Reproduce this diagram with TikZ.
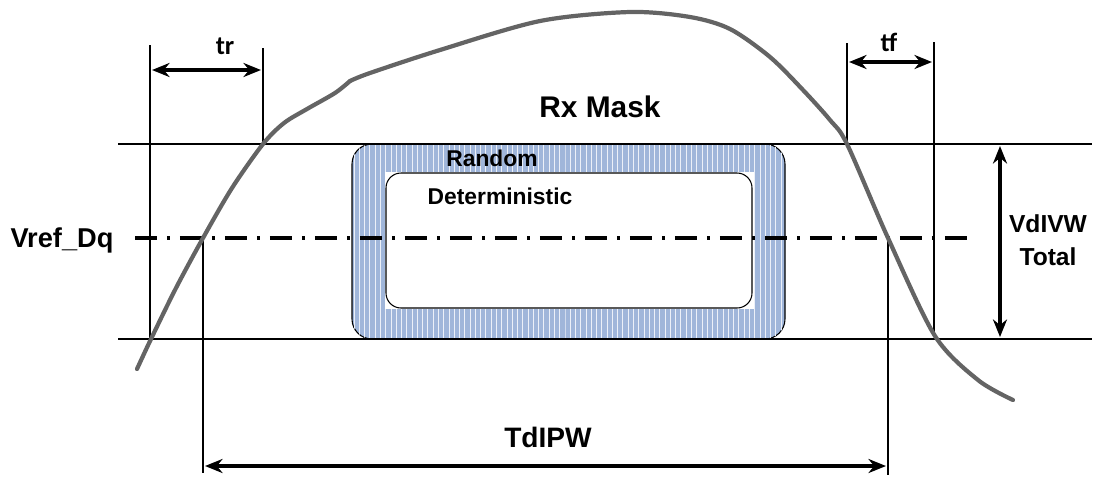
\documentclass[tikz,border=0pt]{standalone}
\usepackage{fontspec}
\setmainfont{Liberation Sans}
\newfontfamily\calfont{Carlito}
\usetikzlibrary{arrows.meta,patterns}
\definecolor{maskblue}{RGB}{160,182,218}
\definecolor{wavegray}{RGB}{100,100,100}

\begin{document}
\begin{tikzpicture}[x=0.02cm,y=-0.02cm,font=\bfseries,
    thinline/.style={line width=0.6pt},
    wave/.style={line width=2.4pt,wavegray,line cap=round},
    dimarrow/.style={line width=2pt,{Stealth[length=10pt,width=8pt]}-{Stealth[length=10pt,width=8pt]}}]
    \useasboundingbox (0,0) rectangle (1099,478);

    % mask boxes
    \draw[thinline,fill=maskblue,postaction={pattern=vertical lines,pattern color=white!80!maskblue},rounded corners=0.4cm]
        (352,144) rectangle (785,339);
    \fill[white] (385,172) rectangle (754,309);
    \draw[thinline,fill=white,rounded corners=0.3cm] (386,173) rectangle (752,308);

    \coordinate (TopL) at (118,144);
    \coordinate (TopR) at (1092,144);
    \coordinate (BotL) at (118,339);
    \coordinate (BotR) at (1092,339);
    \coordinate (VrefL) at (135,238);
    \coordinate (VrefR) at (970,238);
    \coordinate (trA) at (150,45);
    \coordinate (trAb) at (150,340);
    \coordinate (trB) at (263,48);
    \coordinate (trBb) at (263,144);
    \coordinate (tfA) at (847,43);
    \coordinate (tfAb) at (847,144);
    \coordinate (tfB) at (934,42);
    \coordinate (tfBb) at (934,337);
    \coordinate (pwA) at (203,238);
    \coordinate (pwAb) at (203,473);
    \coordinate (pwB) at (888,238);
    \coordinate (pwBb) at (888,475);

    \node (RxMask) at (600,107) {\fontsize{17}{20}\selectfont Rx Mask};
    \node (Random) at (492,158) {\fontsize{13}{15}\selectfont Random};
    \node (Determ) at (500,196) {\fontsize{13}{15}\selectfont Deterministic};
    \node (Vref) at (62,240) {\fontsize{15.5}{18}\selectfont Vref\_Dq};
    \node[align=center,font=\bfseries\fontsize{14}{19}\selectfont] (VdIVW) at (1048,240) {VdIVW\\Total};
    \node (TdIPW) at (548,437) {\fontsize{16}{19}\selectfont TdIPW};
    \node (tr) at (225,46) {\calfont\fontsize{15}{18}\selectfont tr};
    \node (tf) at (889,42) {\calfont\fontsize{15}{18}\selectfont tf};

    \begin{scope}[every path/.style={thinline}]
       \draw (TopL) -- (TopR);
       \draw (BotL) -- (BotR);
       \draw (trA) -- (trAb);
       \draw (trB) -- (trBb);
       \draw (tfA) -- (tfAb);
       \draw (tfB) -- (tfBb);
       \draw (pwA) -- (pwAb);
       \draw (pwB) -- (pwBb);
    \end{scope}

    \draw[line width=2pt,dash pattern=on 0.44cm off 0.2cm on 0.06cm off 0.2cm] (VrefL) -- (VrefR);

    \begin{scope}[every path/.style={dimarrow}]
       \draw (152,70) -- (261,70);
       \draw (849,62) -- (932,62);
       \draw (1000,146) -- (1000,337);
       \draw (205,466) -- (886,466);
    \end{scope}

    % signal
    \draw[wave] plot[smooth] coordinates {(137,369) (151,339) (176,288) (203,238) (232,188) (263,144) (284,123) (307,109) (335,93) (350,81)};
    \draw[wave] plot[smooth] coordinates {(350,81) (370,73) (440,50) (540,21) (630,12) (690,17) (730,29) (770,57) (803,90) (830,120) (847,144) (888,238) (935,336) (978,380) (1013,400)};
\end{tikzpicture}
\end{document}
